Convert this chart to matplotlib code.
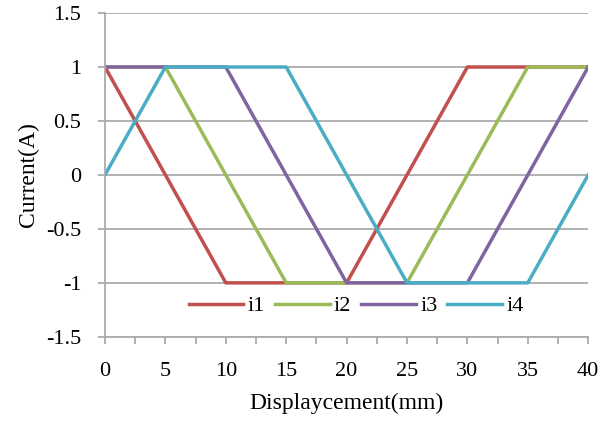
import matplotlib
matplotlib.use('Agg')
import matplotlib.pyplot as plt
from matplotlib.ticker import MultipleLocator

# displacement breakpoints (mm) and phase currents (A)
disp = [0, 5, 10, 15, 20, 25, 30, 35, 40]
i1 = [1, 0, -1, -1, -1, 0, 1, 1, 1]
i2 = [1, 1, 0, -1, -1, -1, 0, 1, 1]
i3 = [1, 1, 1, 0, -1, -1, -1, 0, 1]
i4 = [0, 1, 1, 1, 0, -1, -1, -1, 0]

names = ['i1', 'i2', 'i3', 'i4']
colors = ['#C0504D', '#9BBB59', '#8064A2', '#4BACC6']
yticks = [-1.5, -1, -0.5, 0, 0.5, 1, 1.5]
ylabels = ['-1.5', '-1', '-0.5', '0', '0.5', '1', '1.5']

plt.rcParams['font.family'] = ['Liberation Serif', 'DejaVu Serif']

fig = plt.figure(figsize=(6.14, 4.21), dpi=100)
ax = fig.add_axes([0.171, 0.2, 0.787, 0.769])

for name, vals, c in zip(names, [i1, i2, i3, i4], colors):
    ax.plot(disp, vals, color=c, lw=2.5, label=name, solid_joinstyle='round')

ax.set_xlim(0, 40)
ax.set_ylim(-1.5, 1.5)
ax.xaxis.set_major_locator(MultipleLocator(5))
ax.xaxis.set_minor_locator(MultipleLocator(2.5))
ax.set_yticks(yticks)
ax.set_yticklabels(ylabels)
ax.yaxis.grid(True, color='#ABABAB', lw=1.3)
ax.set_axisbelow(True)

for s in ['top', 'right']:
    ax.spines[s].set_visible(False)
for s in ['left', 'bottom']:
    ax.spines[s].set_color('#ABABAB')
    ax.spines[s].set_linewidth(1.3)

ax.tick_params(axis='both', which='both', direction='out', color='#ABABAB',
               width=1.3, labelsize=16, length=5)
ax.tick_params(axis='x', which='major', pad=13)
ax.tick_params(axis='y', pad=12)

ax.set_xlabel('Displaycement(mm)', fontsize=17, labelpad=9)
ax.set_ylabel('Current(A)', fontsize=17, labelpad=5)

ax.legend(loc='center', bbox_to_anchor=(0.52, 0.095), ncol=4, frameon=False,
          fontsize=16, handlelength=2.45, columnspacing=0.45, handletextpad=0.2)

fig.savefig('out.png', dpi=100)
